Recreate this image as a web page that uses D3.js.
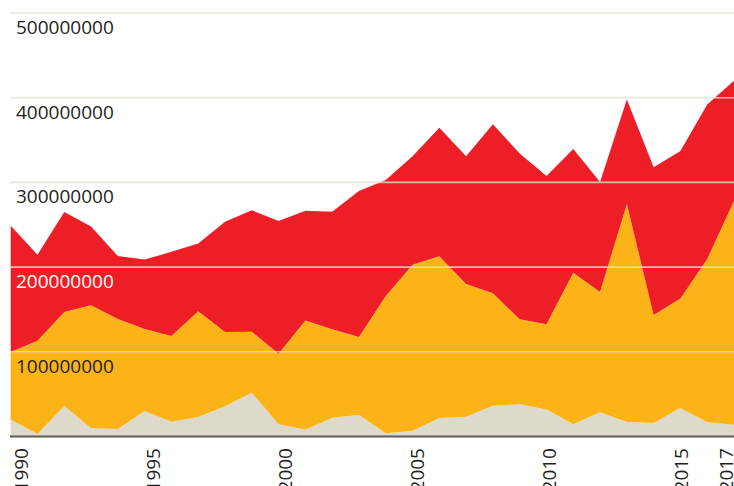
<!DOCTYPE html>
<html lang="en">
<head>
    <meta charset="UTF-8">
    <title>Stacked area 1990-2017</title>
    <script src="https://d3js.org/d3.v7.min.js"></script>
    <style>
        body {
            margin: 0;
            padding: 0;
            background: #fff;
        }

        svg {
            display: block;
        }

        text {
            font-family: "Open Sans", Arial, sans-serif;
            font-size: 19px;
            font-weight: 500;
        }
    </style>
</head>
<body>
    <svg id="chart"></svg>

    <script>
        const width = 734;
        const height = 486;

        // values in millions
        const years = d3.range(1990, 2018);
        const baseSeries = [19.8, 3, 36, 9.7, 8.9, 30, 17.5, 23, 35.6, 51.7, 14.4, 8, 22.2, 25.4,
            3.8, 6.9, 21.8, 23.4, 36.4, 38, 32, 14.4, 28.6, 17.1, 16, 33.6, 16.8, 14];
        const middleSeries = [80, 110, 111, 145.3, 129.8, 97, 101.2, 125, 87.8, 72, 83.4, 129, 104.3, 92.1,
            162.2, 195.9, 190.9, 156.6, 132.6, 100.4, 100.5, 179, 142, 257.4, 127.4, 129.4, 192.8, 264];
        const topSeries = [149.1, 101.6, 118, 93, 74.3, 82, 99.3, 80, 130.2, 143.3, 156.6, 129.6, 138.9, 172.3,
            136.8, 128.2, 151.9, 151, 199.6, 195.6, 175, 146, 129.9, 123.5, 174.4, 174, 182.4, 142];

        const yTicks = [100000000, 200000000, 300000000, 400000000, 500000000];
        const xTicks = [1990, 1995, 2000, 2005, 2010, 2015, 2017];

        const keys = ["base", "middle", "top"];
        const colors = {base: "#dedacb", middle: "#fbb317", top: "#ee1e26"};

        const table = years.map((year, i) => ({
            year: year,
            base: baseSeries[i] * 1e6,
            middle: middleSeries[i] * 1e6,
            top: topSeries[i] * 1e6
        }));

        const svg = d3.select("#chart")
            .attr("width", width)
            .attr("height", height);

        const x = d3.scaleLinear()
            .domain([1990, 2017])
            .range([10.7, width]);

        const y = d3.scaleLinear()
            .domain([0, 500000000])
            .range([436.5, 13]);

        // labels sit on their own slightly narrower spread
        const xLabel = d3.scaleLinear()
            .domain([1990, 2015])
            .range([28, 688]);

        const stack = d3.stack().keys(keys);
        const layers = stack(table);

        const area = d3.area()
            .x(d => x(d.data.year))
            .y0(d => y(d[0]))
            .y1(d => y(d[1]));

        svg.append("g")
            .selectAll("path")
            .data(layers)
            .enter().append("path")
            .attr("fill", d => colors[d.key])
            .attr("d", area);

        // grid lines over the areas
        svg.append("g")
            .selectAll("line")
            .data(yTicks)
            .enter().append("line")
            .attr("x1", 10)
            .attr("x2", width)
            .attr("y1", d => y(d))
            .attr("y2", d => y(d))
            .attr("stroke", "rgba(228,222,208,0.8)")
            .attr("stroke-width", 1.6);

        // baseline
        svg.append("line")
            .attr("x1", 10)
            .attr("x2", width)
            .attr("y1", y(0))
            .attr("y2", y(0))
            .attr("stroke", "#5f5b57")
            .attr("stroke-width", 2);

        svg.append("g")
            .selectAll("text")
            .data(yTicks)
            .enter().append("text")
            .attr("x", 16)
            .attr("y", d => y(d) + 21)
            .attr("fill", d => d === 200000000 ? "#ffffff" : "#231f20")
            .text(d => d3.format("d")(d));

        svg.append("g")
            .selectAll("text")
            .data(xTicks)
            .enter().append("text")
            .attr("transform", d => `translate(${Math.min(xLabel(d), width - 1)},448) rotate(-90)`)
            .attr("text-anchor", "end")
            .attr("fill", "#231f20")
            .text(d => d);
    </script>
</body>
</html>
